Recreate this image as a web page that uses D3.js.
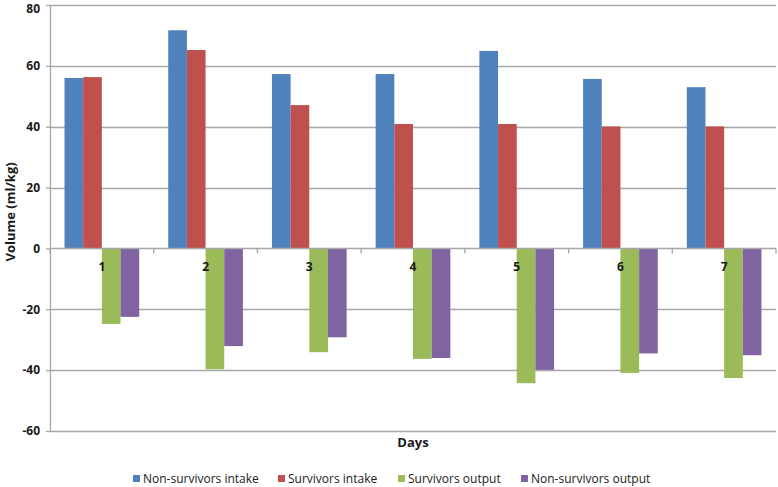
<!DOCTYPE html>
<html>
<head lang="en">
	<meta charset="UTF-8">
	<title>Fluid volume by day</title>
	<style>
	body { margin: 0; background: #fff; }
	text { font-family: "Open Sans", "Liberation Sans", sans-serif; fill: #1a1a1a; }
	.grid line { stroke: #a6a6a6; stroke-width: 1.3; }
	.axis path, .axis line { stroke: #a6a6a6; stroke-width: 1.3; }
	</style>
	<script src="https://cdn.jsdelivr.net/npm/d3@7"></script>
</head>
<body>
<script>
	// values
	var days = ["1", "2", "3", "4", "5", "6", "7"];
	var seriesNames = ["Non-survivors intake", "Survivors intake", "Survivors output", "Non-survivors output"];
	var nonSurvivorsIntake = [56.0, 71.7, 57.3, 57.3, 64.9, 55.7, 53.0];
	var survivorsIntake = [56.3, 65.2, 47.1, 40.9, 40.9, 40.1, 40.1];
	var survivorsOutput = [-24.8, -39.7, -34.1, -36.3, -44.3, -40.9, -42.6];
	var nonSurvivorsOutput = [-22.5, -32.1, -29.2, -36.0, -39.9, -34.5, -35.1];
	var yTicks = [-60, -40, -20, 0, 20, 40, 60, 80];
	var colors = ["#4f81bd", "#c0504d", "#9bbb59", "#8064a2"];

	var width = 778;
	var height = 487;
	var margin = {left: 50, right: 2, top: 5, bottom: 56};

	var allSeries = [nonSurvivorsIntake, survivorsIntake, survivorsOutput, nonSurvivorsOutput];

	var svg = d3.select("body").append("svg")
		.attr("width", width)
		.attr("height", height);

	var x0 = d3.scaleBand()
		.domain(days)
		.range([margin.left, width - margin.right])
		.paddingInner(0.28)
		.paddingOuter(0.14);

	var x1 = d3.scaleBand()
		.domain(d3.range(4))
		.range([0, x0.bandwidth()]);

	var y = d3.scaleLinear()
		.domain([-60, 80])
		.range([height - margin.bottom, margin.top]);

	// horizontal gridlines
	svg.append("g").attr("class", "grid")
		.selectAll("line")
		.data(yTicks.filter(function(d){ return d !== 0; }))
		.enter().append("line")
		.attr("x1", margin.left)
		.attr("x2", width - margin.right)
		.attr("y1", function(d){ return Math.round(y(d)) + 0.5; })
		.attr("y2", function(d){ return Math.round(y(d)) + 0.5; });

	// bars
	var groups = svg.append("g")
		.selectAll("g")
		.data(days)
		.enter().append("g")
		.attr("transform", function(d){ return "translate(" + x0(d) + ",0)"; });

	groups.selectAll("rect")
		.data(function(d, i){
			return allSeries.map(function(s, k){ return {k: k, v: s[i]}; });
		})
		.enter().append("rect")
		.attr("x", function(d){ return x1(d.k); })
		.attr("width", x1.bandwidth())
		.attr("y", function(d){ return y(Math.max(0, d.v)); })
		.attr("height", function(d){ return Math.abs(y(d.v) - y(0)); })
		.attr("fill", function(d){ return colors[d.k]; });

	// y axis (plain hyphen for negatives, as in the original)
	var yAxis = svg.append("g").attr("class", "axis")
		.attr("transform", "translate(" + margin.left + ",0)")
		.call(d3.axisLeft(y).tickValues(yTicks).tickSize(4).tickPadding(6).tickSizeOuter(0)
			.tickFormat(function(d){ return String(d); }));
	yAxis.selectAll("text")
		.style("font-size", "12px")
		.style("font-weight", "bold")
		.attr("fill", "#1a1a1a");
	// keep the top label inside the picture
	yAxis.selectAll(".tick")
		.filter(function(d){ return d === 80; })
		.select("text").attr("dy", "0.62em");

	// category axis along zero, ticks at category boundaries
	var zeroY = Math.round(y(0)) + 0.5;
	var step = x0.step();
	var xg = svg.append("g").attr("class", "axis");
	xg.append("line")
		.attr("x1", margin.left).attr("x2", width - margin.right)
		.attr("y1", zeroY).attr("y2", zeroY);
	xg.selectAll(".tk")
		.data(d3.range(days.length + 1))
		.enter().append("line")
		.attr("class", "tk")
		.attr("x1", function(i){ return margin.left + i * step; })
		.attr("x2", function(i){ return margin.left + i * step; })
		.attr("y1", zeroY).attr("y2", zeroY + 5);
	xg.selectAll("text")
		.data(days)
		.enter().append("text")
		.attr("x", function(d){ return x0(d) + x0.bandwidth() / 2; })
		.attr("y", zeroY + 22)
		.attr("text-anchor", "middle")
		.style("font-size", "12px")
		.style("font-weight", "bold")
		.text(function(d){ return d; });

	// axis titles
	svg.append("text")
		.attr("transform", "translate(15," + y(12) + ") rotate(-90)")
		.attr("text-anchor", "middle")
		.style("font-size", "13px")
		.style("font-weight", "bold")
		.text("Volume (ml/kg)");

	svg.append("text")
		.attr("x", (margin.left + width - margin.right) / 2)
		.attr("y", 447)
		.attr("text-anchor", "middle")
		.style("font-size", "13px")
		.style("font-weight", "bold")
		.text("Days");

	// legend
	var legendX = [133, 278, 398, 521];
	var legend = svg.append("g")
		.selectAll("g")
		.data(seriesNames)
		.enter().append("g")
		.attr("transform", function(d, i){ return "translate(" + legendX[i] + ",475)"; });
	legend.append("rect")
		.attr("width", 7).attr("height", 7)
		.attr("fill", function(d, i){ return colors[i]; });
	legend.append("text")
		.attr("x", 10).attr("y", 7.5)
		.style("font-size", "12px")
		.text(function(d){ return d; });
</script>
</body>
</html>
